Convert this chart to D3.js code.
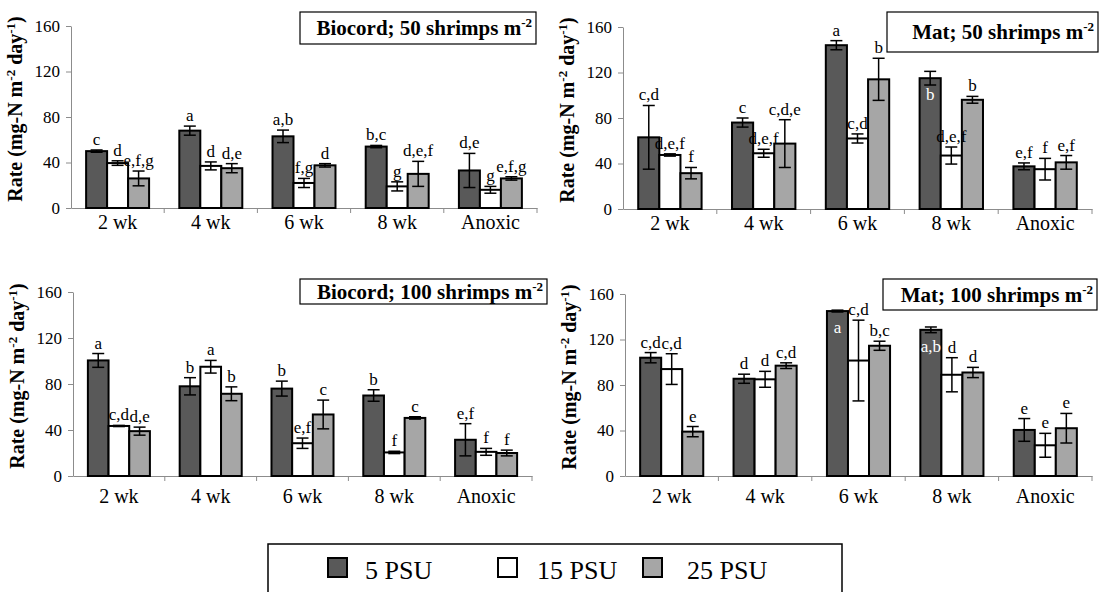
<!DOCTYPE html>
<html>
<head>
<meta charset="utf-8">
<script src="https://cdn.jsdelivr.net/npm/d3@7"></script>
<style>
  body { margin: 0; background: #fff; }
  svg text { font-family: 'Liberation Serif', 'Times New Roman', serif; }
</style>
</head>
<body>
<div id="main"></div>
<script>
const categories = ['2 wk', '4 wk', '6 wk', '8 wk', 'Anoxic'];
const series = ['5 PSU', '15 PSU', '25 PSU'];
const yTicks = [0, 40, 80, 120, 160];

// Biocord; 50 shrimps
const biocord50Mean = [[50, 68, 63, 54, 33], [39.5, 37, 22, 19, 16], [26, 35, 37.5, 30, 26]];
const biocord50Err  = [[1, 4, 5.5, 1, 15], [2, 3.5, 4, 4, 3], [6.5, 4, 1.5, 11, 1.5]];
const biocord50Letters = [['c', 'a', 'a,b', 'b,c', 'd,e'], ['d', 'd', 'f,g', 'g', 'g'], ['e,f,g', 'd,e', 'd', 'd,e,f', 'e,f,g']];

// Mat; 50 shrimps
const mat50Mean = [[63, 76, 144, 115, 37.5], [47.5, 49, 62, 47, 35], [31.5, 57.5, 114, 96, 41]];
const mat50Err  = [[28, 4, 4, 6, 3], [1, 3.5, 4, 7.5, 9.5], [5, 21, 18.5, 3, 6]];
const mat50Letters = [['c,d', 'c', 'a', 'b', 'e,f'], ['d,e,f', 'd,e,f', 'c,d', 'd,e,f', 'f'], ['f', 'c,d,e', 'b', 'b', 'e,f']];

// Biocord; 100 shrimps
const biocord100Mean = [[100.5, 78, 76, 70, 31.5], [43.5, 95, 28.5, 20.5, 21], [39, 71.5, 53.5, 50.5, 20]];
const biocord100Err  = [[6, 7.5, 6.5, 5, 14], [0.5, 5.5, 4.5, 1, 3], [3.5, 6, 12.5, 1, 2.5]];
const biocord100Letters = [['a', 'b', 'b', 'b', 'e,f'], ['c,d', 'a', 'e,f', 'f', 'f'], ['d,e', 'b', 'c', 'c', 'f']];

// Mat; 100 shrimps
const mat100Mean = [[104, 85.5, 145, 128.5, 40.5], [94, 85, 101.5, 89, 27], [39, 97, 114.5, 91, 42]];
const mat100Err  = [[4.5, 4, 0.8, 2.5, 10], [13.5, 7, 35.5, 15, 10.5], [4.5, 2.5, 4, 4.5, 13]];
const mat100Letters = [['c,d', 'd', 'a', 'a,b', 'e'], ['c,d', 'd', 'c,d', 'd', 'e'], ['e', 'c,d', 'b,c', 'd', 'e']];

const colors = ['#595959', '#ffffff', '#a6a6a6'];
const serif = "'Liberation Serif', 'Times New Roman', serif";

const width = 1103, height = 592;
const svg = d3.select('#main').append('svg').attr('width', width).attr('height', height);

const panels = [
    { title: 'Biocord; 50 shrimps m', mean: biocord50Mean, err: biocord50Err, letters: biocord50Letters, inside: [],
      x0: 71, x1: 537, y0: 26, y1: 208, box: [300, 12, 236, 32], labelGap: 21 },
    { title: 'Mat; 50 shrimps m', mean: mat50Mean, err: mat50Err, letters: mat50Letters, inside: ['0-3'],
      x0: 623, x1: 1092, y0: 27, y1: 209, box: [887, 12, 211, 40], labelGap: 21 },
    { title: 'Biocord; 100 shrimps m', mean: biocord100Mean, err: biocord100Err, letters: biocord100Letters, inside: [],
      x0: 73, x1: 532, y0: 292, y1: 476, box: [300, 279, 247, 25], labelGap: 27 },
    { title: 'Mat; 100 shrimps m', mean: mat100Mean, err: mat100Err, letters: mat100Letters, inside: ['0-2', '0-3'],
      x0: 625, x1: 1092, y0: 294, y1: 476, box: [883, 279, 214, 31], labelGap: 27 }
];

function drawPanel(p) {
    const xScale = d3.scaleBand().domain(categories).range([p.x0, p.x1]).paddingInner(0).paddingOuter(0);
    const inner = d3.scaleBand().domain(series).range([0, xScale.bandwidth()]).paddingOuter(0.72).paddingInner(0);
    const yScale = d3.scaleLinear().domain([0, 160]).range([p.y1, p.y0]);

    const g = svg.append('g');

    // y axis
    const yAxis = g.append('g')
        .attr('transform', `translate(${p.x0},0)`)
        .call(d3.axisLeft(yScale).tickValues(yTicks).tickSize(5).tickPadding(6).tickSizeOuter(0));
    yAxis.attr('font-family', serif);
    yAxis.select('.domain').attr('stroke', '#8c8c8c');
    yAxis.selectAll('.tick line').attr('stroke', '#8c8c8c');
    yAxis.selectAll('.tick text').style('font-size', '17px').attr('fill', '#000');

    // x axis line with ticks between categories
    const xAxis = g.append('g')
        .attr('transform', `translate(0,${p.y1})`)
        .call(d3.axisBottom(xScale).tickSize(0).tickSizeOuter(0).tickPadding(p.labelGap - 14));
    xAxis.attr('font-family', serif);
    xAxis.select('.domain').attr('stroke', '#8c8c8c');
    xAxis.selectAll('.tick text').style('font-size', '20px').attr('fill', '#000');
    g.selectAll('.xtick')
        .data(categories.slice(1).concat(['end']))
        .enter()
            .append('line')
                .attr('x1', d => d === 'end' ? p.x1 : xScale(d))
                .attr('x2', d => d === 'end' ? p.x1 : xScale(d))
                .attr('y1', p.y1)
                .attr('y2', p.y1 + 5)
                .attr('stroke', '#8c8c8c');

    // y axis title
    const ty = (p.y0 + p.y1) / 2 - 8, tx = p.x0 - 49;
    const yt = g.append('text')
        .attr('transform', `translate(${tx},${ty}) rotate(-90)`)
        .attr('text-anchor', 'middle')
        .style('font-size', '20px')
        .style('font-weight', 'bold');
    yt.append('tspan').text('Rate (mg-N m');
    yt.append('tspan').text('-2').style('font-size', '13px').attr('dy', -7);
    yt.append('tspan').text(' day').style('font-size', '20px').attr('dy', 7);
    yt.append('tspan').text('-1').style('font-size', '13px').attr('dy', -7);
    yt.append('tspan').text(')').style('font-size', '20px').attr('dy', 7);

    // bars
    const rows = [];
    categories.forEach((c, ci) => {
        series.forEach((s, si) => {
            rows.push({ c, s, si, ci, v: p.mean[si][ci], e: p.err[si][ci], l: p.letters[si][ci] });
        });
    });

    g.selectAll('.bar')
        .data(rows)
        .enter()
            .append('rect')
                .attr('class', 'bar')
                .attr('x', d => xScale(d.c) + inner(d.s))
                .attr('y', d => yScale(d.v))
                .attr('width', inner.bandwidth())
                .attr('height', d => p.y1 - yScale(d.v))
                .attr('fill', d => colors[d.si])
                .attr('stroke', '#000')
                .attr('stroke-width', 2);

    // error bars
    const cx = d => xScale(d.c) + inner(d.s) + inner.bandwidth() / 2;
    const eg = g.selectAll('.err').data(rows).enter().append('g').attr('stroke', '#000').attr('stroke-width', 1.5);
    eg.append('line').attr('x1', cx).attr('x2', cx).attr('y1', d => yScale(d.v + d.e)).attr('y2', d => yScale(d.v - d.e));
    eg.append('line').attr('x1', d => cx(d) - 6).attr('x2', d => cx(d) + 6).attr('y1', d => yScale(d.v + d.e)).attr('y2', d => yScale(d.v + d.e));
    eg.append('line').attr('x1', d => cx(d) - 6).attr('x2', d => cx(d) + 6).attr('y1', d => yScale(d.v - d.e)).attr('y2', d => yScale(d.v - d.e));

    // letters
    g.selectAll('.letter')
        .data(rows)
        .enter()
            .append('text')
                .attr('x', cx)
                .attr('y', d => p.inside.includes(d.si + '-' + d.ci) ? yScale(d.v) + 22 : yScale(d.v + d.e) - 5)
                .attr('text-anchor', 'middle')
                .attr('fill', d => p.inside.includes(d.si + '-' + d.ci) ? '#fff' : '#000')
                .style('font-size', '17px')
                .text(d => d.l);

    // title box
    g.append('rect')
        .attr('x', p.box[0]).attr('y', p.box[1]).attr('width', p.box[2]).attr('height', p.box[3])
        .attr('fill', '#fff').attr('stroke', '#000').attr('stroke-width', 1.2);
    const tt = g.append('text')
        .attr('x', p.box[0] + p.box[2] - 4)
        .attr('y', p.box[1] + p.box[3] / 2 + 7)
        .attr('text-anchor', 'end')
        .style('font-size', '21px')
        .style('font-weight', 'bold');
    tt.append('tspan').text(p.title);
    tt.append('tspan').text('-2').style('font-size', '13px').attr('dy', -8);
}

panels.forEach(drawPanel);

// legend
const legend = svg.append('g');
legend.append('rect')
    .attr('x', 268).attr('y', 544).attr('width', 574).attr('height', 70)
    .attr('fill', '#fff').attr('stroke', '#000').attr('stroke-width', 1.5);
const legendX = d3.scaleOrdinal().domain(series).range([328, 498, 643]);
const legendTextX = d3.scaleOrdinal().domain(series).range([365, 537, 687]);
legend.selectAll('.sw')
    .data(series)
    .enter()
        .append('rect')
            .attr('x', d => legendX(d))
            .attr('y', 558)
            .attr('width', 19)
            .attr('height', 19)
            .attr('fill', (d, i) => colors[i])
            .attr('stroke', '#000')
            .attr('stroke-width', 2);
legend.selectAll('.lt')
    .data(series)
    .enter()
        .append('text')
            .attr('x', d => legendTextX(d))
            .attr('y', 579)
            .style('font-size', '26px')
            .text(d => d);
</script>
</body>
</html>
